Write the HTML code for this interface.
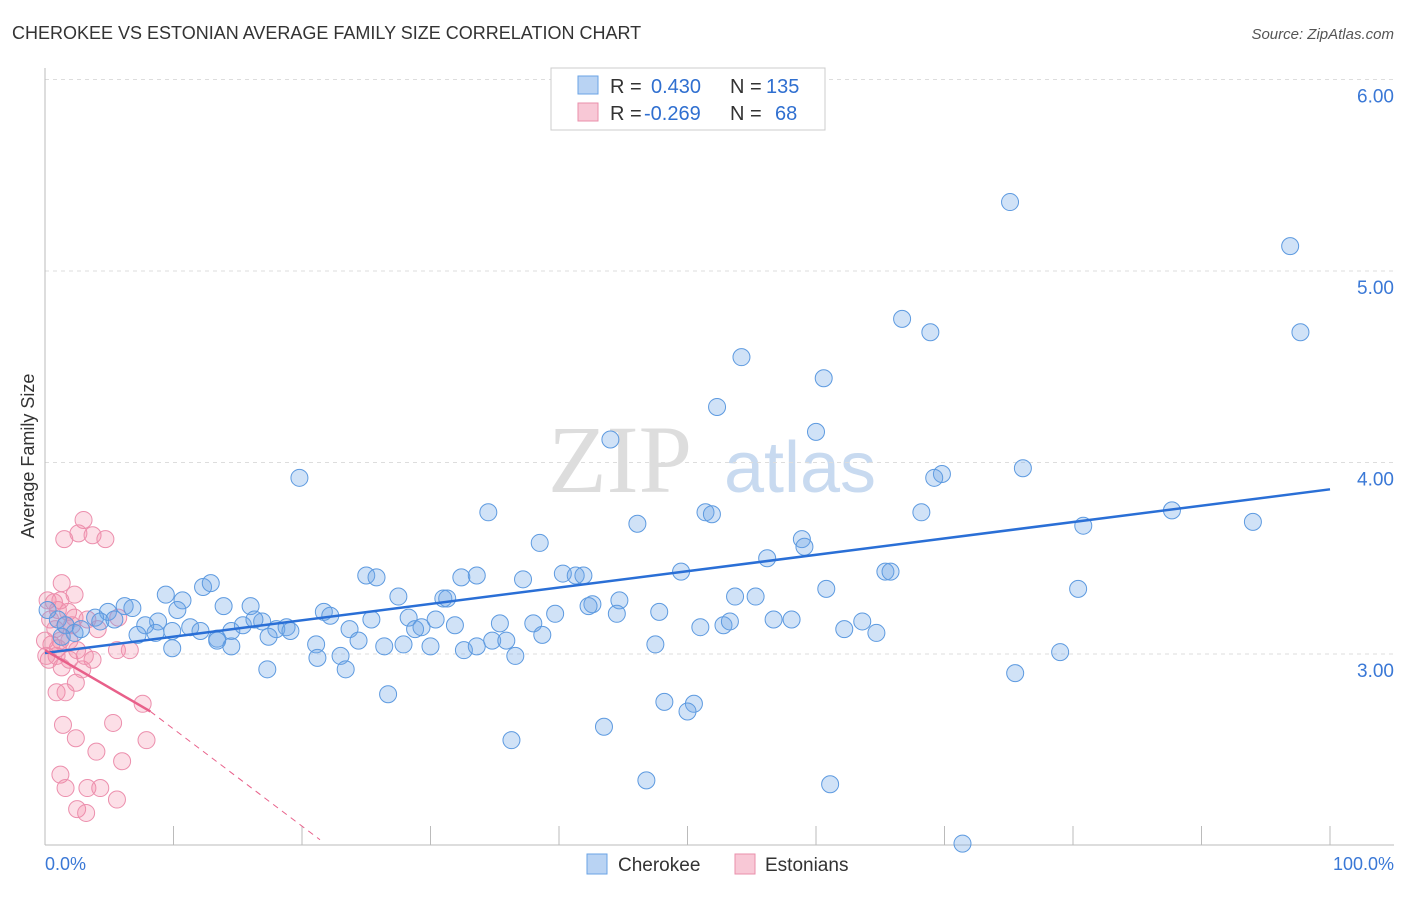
<!DOCTYPE html>
<html><head><meta charset="utf-8"><style>
body{margin:0;background:#fff;font-family:"Liberation Sans",sans-serif}
</style></head><body>
<svg id="c" width="1406" height="892" xmlns="http://www.w3.org/2000/svg">
<text x="12" y="39" font-size="18" fill="#333">CHEROKEE VS ESTONIAN AVERAGE FAMILY SIZE CORRELATION CHART</text>
<text x="1394" y="39" font-size="15" fill="#555" text-anchor="end" font-style="italic">Source: ZipAtlas.com</text>
<text x="620" y="492" font-size="96" fill="#ddd" font-family="Liberation Serif" text-anchor="middle">ZIP</text>
<text x="800" y="492" font-size="72" fill="#c8daf0" text-anchor="middle">atlas</text>
<text transform="translate(34,456) rotate(-90)" font-size="18" fill="#333" text-anchor="middle">Average Family Size</text>
<g id="grid"></g><g id="pts"></g><g id="lines"></g>
<rect x="551" y="68" width="274" height="62" fill="#fff" stroke="#ccc"/>
<rect x="578" y="76" width="20" height="18" fill="#b9d3f3" stroke="#6aa3e6"/>
<rect x="578" y="103" width="20" height="18" fill="#f8c8d6" stroke="#ea8fab"/>
<g font-size="20">
<text x="610" y="93" fill="#333">R = </text><text x="651" y="93" fill="#2f6fd0">0.430</text><text x="730" y="93" fill="#333">N = </text><text x="766" y="93" fill="#2f6fd0">135</text>
<text x="610" y="120" fill="#333">R = </text><text x="644" y="120" fill="#2f6fd0">-0.269</text><text x="730" y="120" fill="#333">N = </text><text x="775" y="120" fill="#2f6fd0">68</text>
</g>
<text x="45" y="870" font-size="18" fill="#3a78d6">0.0%</text>
<text x="1394" y="870" font-size="18" fill="#3a78d6" text-anchor="end">100.0%</text>
<rect x="587" y="854" width="20" height="20" fill="#b9d3f3" stroke="#6aa3e6"/>
<text x="618" y="871" font-size="19" fill="#333">Cherokee</text>
<rect x="735" y="854" width="20" height="20" fill="#f8c8d6" stroke="#ea8fab"/>
<text x="765" y="871" font-size="19" fill="#333">Estonians</text>
</svg>
<script>
const yTicks=[3,4,5,6];
const yTickLabels=["3.00","4.00","5.00","6.00"];
const blueX=[75.1,96.9,97.7,66.7,68.9,54.2,60.6,52.3,44.0,60.0,19.8,76.1,69.8,69.2,34.5,51.4,51.9,68.2,87.7,94.0,80.8,46.1,38.5,58.9,59.1,56.2,49.5,65.4,65.8,25.0,25.8,32.4,33.6,37.2,40.3,41.3,41.9,60.8,80.4,9.4,10.7,12.3,12.9,27.5,31.0,31.3,42.6,44.7,53.7,55.3,42.3,44.5,13.9,16.0,10.3,6.2,6.8,4.9,3.9,4.3,5.4,8.8,7.8,7.2,8.6,9.9,11.3,12.1,13.4,14.5,15.4,16.9,18.0,18.8,19.1,17.4,16.3,21.7,22.2,23.7,24.4,25.4,28.3,28.8,29.3,30.4,31.9,35.4,38.0,39.7,47.8,51.0,52.8,53.3,56.7,58.1,62.2,63.6,64.7,34.8,35.9,38.7,30.0,32.6,33.6,26.4,27.9,14.5,13.4,9.9,21.1,23.0,21.2,23.4,36.6,47.5,79.0,75.5,17.3,26.7,48.2,50.5,50.0,43.5,36.3,46.8,61.1,71.4,1.0,1.6,2.3,2.8,1.3,0.2];
const blueY=[5.36,5.13,4.68,4.75,4.68,4.55,4.44,4.29,4.12,4.16,3.92,3.97,3.94,3.92,3.74,3.74,3.73,3.74,3.75,3.69,3.67,3.68,3.58,3.60,3.56,3.50,3.43,3.43,3.43,3.41,3.40,3.40,3.41,3.39,3.42,3.41,3.41,3.34,3.34,3.31,3.28,3.35,3.37,3.30,3.29,3.29,3.26,3.28,3.30,3.30,3.25,3.21,3.25,3.25,3.23,3.25,3.24,3.22,3.19,3.17,3.18,3.17,3.15,3.10,3.11,3.12,3.14,3.12,3.08,3.12,3.15,3.17,3.13,3.14,3.12,3.09,3.18,3.22,3.20,3.13,3.07,3.18,3.19,3.13,3.14,3.18,3.15,3.16,3.16,3.21,3.22,3.14,3.15,3.17,3.18,3.18,3.13,3.17,3.11,3.07,3.07,3.10,3.04,3.02,3.04,3.04,3.05,3.04,3.07,3.03,3.05,2.99,2.98,2.92,2.99,3.05,3.01,2.90,2.92,2.79,2.75,2.74,2.70,2.62,2.55,2.34,2.32,2.01,3.18,3.15,3.11,3.13,3.09,3.23];
const pinkX=[3.0,1.5,2.6,3.7,4.7,1.3,2.3,1.0,1.8,2.3,5.7,1.6,0.4,0.8,1.2,1.9,2.5,0.9,0.3,1.3,2.9,3.7,2.4,0.9,1.6,4.1,0.5,0.0,5.6,6.6,7.6,1.4,2.4,4.0,5.3,6.0,7.9,1.2,1.6,3.3,4.3,5.6,2.5,3.2,0.2,0.7,1.0,0.1,1.9,3.1,1.2,2.1,3.3];
const pinkY=[3.70,3.60,3.63,3.62,3.60,3.37,3.31,3.23,3.22,3.19,3.19,3.15,3.18,3.13,3.07,3.07,3.02,2.99,2.97,2.93,2.92,2.97,2.85,2.80,2.80,3.13,3.05,3.07,3.02,3.02,2.74,2.63,2.56,2.49,2.64,2.44,2.55,2.37,2.30,2.30,2.30,2.24,2.19,2.17,3.28,3.27,3.03,2.99,2.97,2.99,3.28,3.15,3.18];
const blueTrend=[3.005,3.86];
const pinkTrend=[3.02,2.70,2.03];
const pinkTrendX=[0,8.2,21.4];
const NS="http://www.w3.org/2000/svg";
const X=p=>45+p*12.85, Y=v=>654-(v-3)*191.5;
function mk(t,a,parent){const e=document.createElementNS(NS,t);for(const k in a)e.setAttribute(k,a[k]);document.getElementById(parent).appendChild(e);return e;}
yTicks.forEach((v,i)=>{
 const l=mk('line',{x1:45,x2:1394,y1:Y(v),y2:Y(v),stroke:'#ddd','stroke-dasharray':'4,4'},'grid');
 
 
 const t=mk('text',{x:1394,y:Y(v)+23,'font-size':19,fill:'#3a78d6','text-anchor':'end'},'grid');t.textContent=yTickLabels[i];
 
 
});
const ax=mk('line',{x1:45,x2:45,y1:68,y2:845,stroke:'#bbb'},'grid');


const bx=mk('line',{x1:45,x2:1394,y1:845,y2:845,stroke:'#bbb'},'grid');


for(let i=1;i<=10;i++){const t=mk('line',{x1:X(i*10),x2:X(i*10),y1:826,y2:845,stroke:'#bbb'},'grid');
 
 }
pinkX.forEach((p,i)=>{const c=mk('circle',{cx:X(p),cy:Y(pinkY[i]),r:8.5,fill:'rgba(243,140,170,0.28)',stroke:'#ec8fad','stroke-width':1},'pts');
 
 });
blueX.forEach((p,i)=>{const c=mk('circle',{cx:X(p),cy:Y(blueY[i]),r:8.5,fill:'rgba(110,165,230,0.32)',stroke:'#5d9ae0','stroke-width':1},'pts');
 
 });
const bl=mk('line',{x1:X(0),y1:Y(blueTrend[0]),x2:X(100),y2:Y(blueTrend[1]),stroke:'#2a6fd6','stroke-width':2.5},'lines');


const pl=mk('line',{x1:X(pinkTrendX[0]),y1:Y(pinkTrend[0]),x2:X(pinkTrendX[1]),y2:Y(pinkTrend[1]),stroke:'#e8608a','stroke-width':2.5},'lines');


const pd=mk('line',{x1:X(pinkTrendX[1]),y1:Y(pinkTrend[1]),x2:X(pinkTrendX[2]),y2:Y(pinkTrend[2]),stroke:'#e8608a','stroke-width':1,'stroke-dasharray':'6,5'},'lines');


</script>
</body></html>
